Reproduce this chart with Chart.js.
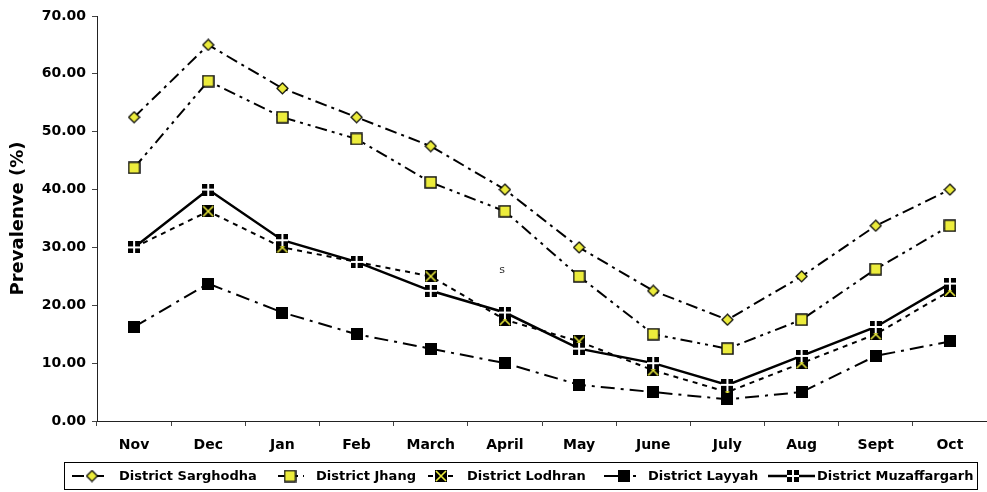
<!DOCTYPE html>
<html>
<head>
<meta charset="utf-8">
<script src="https://cdn.jsdelivr.net/npm/chart.js@4.4.0/dist/chart.umd.min.js"></script>
<style>
  html, body { margin: 0; padding: 0; background: #fff; overflow: hidden; }
  #wrap { width: 987px; height: 492px; }
</style>
</head>
<body>
<div id="wrap"><canvas id="chart" width="987" height="492"></canvas></div>
<script>
const months = ['Nov', 'Dec', 'Jan', 'Feb', 'March', 'April', 'May', 'June', 'July', 'Aug', 'Sept', 'Oct'];
const sarghodha = [52.5, 65, 57.5, 52.5, 47.5, 40, 30, 22.5, 17.5, 25, 33.75, 40];
const jhang = [43.75, 58.75, 52.5, 48.75, 41.25, 36.25, 25, 15, 12.5, 17.5, 26.25, 33.75];
const lodhran = [30, 36.25, 30, 27.5, 25, 17.5, 13.75, 8.75, 5, 10, 15, 22.5];
const layyah = [16.25, 23.75, 18.75, 15, 12.5, 10, 6.25, 5, 3.75, 5, 11.25, 13.75];
const muzaffargarh = [30, 40, 31.25, 27.5, 22.5, 18.75, 12.5, 10, 6.25, 11.25, 16.25, 23.75];
const seriesNames = ['District Sarghodha', 'District Jhang', 'District Lodhran', 'District Layyah', 'District Muzaffargarh'];

const YELLOW = '#ecec3c';
const FONT = "'DejaVu Sans', sans-serif";

// small canvases used as point markers
function marker(size, draw) {
    const c = document.createElement('canvas');
    c.width = size; c.height = size;
    draw(c.getContext('2d'), size);
    return c;
}
const diamond = marker(13, (g, s) => {
    g.beginPath();
    g.moveTo(s / 2, 1); g.lineTo(s - 1, s / 2); g.lineTo(s / 2, s - 1); g.lineTo(1, s / 2); g.closePath();
    g.fillStyle = YELLOW; g.fill();
    g.lineWidth = 1.2; g.strokeStyle = '#000'; g.stroke();
});
const yellowSquare = marker(13, (g, s) => {
    g.fillStyle = YELLOW; g.fillRect(1, 1, s - 2, s - 2);
    g.lineWidth = 1.5; g.strokeStyle = '#111'; g.strokeRect(1, 1, s - 2, s - 2);
});
const xSquare = marker(12, (g, s) => {
    g.fillStyle = '#000'; g.fillRect(0, 0, s, s);
    g.strokeStyle = YELLOW; g.lineWidth = 1.6;
    g.beginPath(); g.moveTo(1, 1); g.lineTo(s - 1, s - 1); g.moveTo(s - 1, 1); g.lineTo(1, s - 1); g.stroke();
});
const blackSquare = marker(12, (g, s) => {
    g.fillStyle = '#000'; g.fillRect(0, 0, s, s);
});
const plusSquare = marker(12, (g, s) => {
    g.fillStyle = '#000'; g.fillRect(0, 0, s, s);
    g.fillStyle = '#fff'; g.fillRect(s / 2 - 1, 0, 2, s); g.fillRect(0, s / 2 - 1, s, 2);
});

const styles = [
    { data: sarghodha, marker: diamond, dash: [12, 5, 3, 5], width: 2, order: 4 },
    { data: jhang, marker: yellowSquare, dash: [12, 5, 3, 5, 3, 5], width: 2, order: 3 },
    { data: lodhran, marker: xSquare, dash: [5, 5], width: 2, order: 2 },
    { data: layyah, marker: blackSquare, dash: [14, 6, 3, 6], width: 2, order: 1 },
    { data: muzaffargarh, marker: plusSquare, dash: [], width: 2.5, order: 0 }
];

const datasets = styles.map((s, i) => ({
    label: seriesNames[i],
    data: s.data,
    borderColor: '#000',
    borderWidth: s.width,
    borderDash: s.dash,
    pointStyle: s.marker,
    pointRadius: 6,
    fill: false,
    tension: 0,
    order: s.order
}));

// legend box along the bottom, plus the stray "s" in the plot
const legendBox = {
    id: 'legendBox',
    afterDraw(chart) {
        const ctx = chart.ctx;
        ctx.save();
        ctx.strokeStyle = '#000';
        ctx.lineWidth = 1;
        ctx.strokeRect(64.5, 462.5, 913, 27);
        const items = [
            { x0: 72, x1: 104, mx: 92, tx: 119 },
            { x0: 278, x1: 304, mx: 290, tx: 316 },
            { x0: 428, x1: 454, mx: 441, tx: 467 },
            { x0: 604, x1: 636, mx: 624, tx: 648 },
            { x0: 768, x1: 815, mx: 793, tx: 817 }
        ];
        const y = 476;
        items.forEach((it, i) => {
            const s = styles[i];
            ctx.beginPath();
            ctx.setLineDash(s.dash);
            ctx.lineWidth = s.width;
            ctx.moveTo(it.x0, y); ctx.lineTo(it.x1, y);
            ctx.stroke();
            ctx.setLineDash([]);
            const m = s.marker;
            ctx.drawImage(m, it.mx - m.width / 2, y - m.height / 2);
            ctx.fillStyle = '#000';
            ctx.font = 'bold 13px ' + FONT;
            ctx.textBaseline = 'middle';
            ctx.fillText(seriesNames[i], it.tx, y + 1);
        });
        ctx.fillStyle = '#333';
        ctx.font = '11px ' + FONT;
        ctx.textAlign = 'center';
        ctx.fillText('s', 502, 270);
        ctx.restore();
    }
};

new Chart(document.getElementById('chart'), {
    type: 'line',
    data: { labels: months, datasets },
    options: {
        responsive: false,
        animation: false,
        layout: { autoPadding: false, padding: { top: 16, right: 0, bottom: 31, left: 0 } },
        plugins: { legend: { display: false }, tooltip: { enabled: false } },
        scales: {
            x: {
                offset: true,
                afterFit: s => { s.height = 40; },
                grid: { drawOnChartArea: false, drawTicks: true, tickLength: 5, color: '#444', offset: true },
                border: { display: true, color: '#222', width: 1 },
                ticks: { color: '#000', font: { family: FONT, size: 14, weight: 'bold' }, padding: 11, maxRotation: 0, autoSkip: false }
            },
            y: {
                min: 0,
                max: 70,
                afterFit: s => { s.width = 97; },
                grid: { drawOnChartArea: false, drawTicks: true, tickLength: 5, color: '#444' },
                border: { display: true, color: '#222', width: 1 },
                ticks: {
                    stepSize: 10,
                    color: '#000',
                    padding: 6,
                    font: { family: FONT, size: 14, weight: 'bold' },
                    callback: v => v.toFixed(2)
                },
                title: {
                    display: true,
                    text: 'Prevalenve (%)',
                    color: '#000',
                    font: { family: FONT, size: 18, weight: 'bold' },
                    padding: { top: 8, bottom: 0 }
                }
            }
        }
    },
    plugins: [legendBox]
});
</script>
</body>
</html>
